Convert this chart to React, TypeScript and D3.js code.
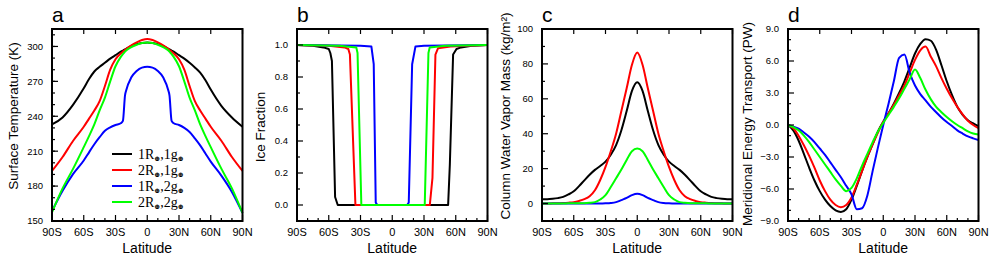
import * as d3 from 'd3'

// legend / series
const seriesLabels = ['1R⊕,1g⊕', '2R⊕,1g⊕', '1R⊕,2g⊕', '2R⊕,2g⊕']
const seriesColors = ['#000000', '#ff0000', '#0000ff', '#00ff00']

const xTicks = [-90, -60, -30, 0, 30, 60, 90]
const xTickLabels = ['90S', '60S', '30S', '0', '30N', '60N', '90N']

// panel a: surface temperature (K)
const latA = [-90, -80, -70, -60, -55, -50, -45, -40, -35, -30, -25, -23, -21, -20, -15, -10, -5, 0, 5, 10, 15, 20, 21, 23, 25, 30, 35, 40, 45, 50, 55, 60, 70, 80, 90]
const tempBlack = [233, 239, 250, 264, 272, 278.5, 282.5, 286, 289.5, 292.5, 295.5, 296.5, 297.5, 298, 300.5, 302, 303, 303.5, 303, 302, 300.5, 298, 297.5, 296.5, 295.5, 292.5, 289.5, 286, 282, 277.5, 271, 263, 249, 239, 231]
const tempRed = [193, 205, 219, 231, 238, 245, 253, 266, 280, 289, 294, 295.5, 297, 297.8, 301, 303.5, 305.5, 306.5, 305.5, 303.5, 301, 297.8, 297, 295.5, 294, 289, 280, 266, 253, 245, 238, 231, 219, 205, 193]
const tempBlue = [158.5, 176, 190.5, 202, 209, 216, 222, 227.5, 230.5, 232.5, 234, 236, 258, 262, 273.5, 279, 281.8, 282.5, 281.8, 279, 273.5, 262, 258, 236, 234, 232.5, 230, 226.5, 221, 215, 208, 201, 189, 175, 157]
const tempGreen = [157.5, 178, 195, 213.5, 223, 233, 245, 256, 270, 283, 291, 293.5, 295.5, 296.5, 299.5, 301.5, 303, 303.5, 303, 301.5, 299.5, 296.5, 295.5, 293.5, 291, 283, 270, 256, 245, 233, 223, 213.5, 195, 178, 157]

// panel b: ice fraction
const iceBlackLat = [-90, -75, -65, -60, -58.5, -57, -54, -51.5, 52.8, 54.4, 57.5, 60.7, 65, 75, 90]
const iceBlack = [1, 0.995, 0.985, 0.975, 0.95, 0.9, 0.05, 0, 0, 0.25, 0.94, 0.975, 0.985, 0.995, 1]
const iceRedLat = [-90, -60, -45, -41.5, -40, -34.8, 35.5, 38, 40.8, 43.3, 55, 90]
const iceRed = [1, 0.995, 0.985, 0.975, 0.94, 0, 0, 0.17, 0.94, 0.98, 0.99, 1]
const iceBlueLat = [-90, -30, -19.7, -17.5, -15.6, -14, 14, 15.6, 18.8, 21.9, 30, 90]
const iceBlue = [1, 0.995, 0.99, 0.88, 0.015, 0, 0, 0.015, 0.88, 0.99, 0.995, 1]
const iceGreenLat = [-90, -50, -34, -32.8, -29.2, 30.7, 34.2, 35.4, 50, 90]
const iceGreen = [1, 0.995, 0.985, 0.95, 0, 0, 0.95, 0.985, 0.995, 1]

// panels c and d share a 5 degree grid
const lat5 = [-90, -85, -80, -75, -70, -65, -60, -55, -50, -45, -40, -35, -30, -25, -20, -15, -10, -5, 0, 5, 10, 15, 20, 25, 30, 35, 40, 45, 50, 55, 60, 65, 70, 75, 80, 85, 90]

// panel c: column water vapor (kg/m2)
const vaporBlack = [2.5, 2.5, 2.7, 3.1, 3.8, 5.2, 7, 10, 13.3, 16.5, 19.3, 21.5, 24, 28, 33.5, 42, 53, 64.5, 69.5, 64.5, 53, 42, 33.5, 28, 24, 21.5, 19.3, 16.5, 13.3, 10, 7, 5.2, 3.8, 3.1, 2.7, 2.5, 2.5]
const vaporRed = [0, 0, 0.1, 0.2, 0.3, 0.5, 0.8, 1.5, 2.5, 4.2, 7.6, 13.5, 21, 30, 40, 53, 66, 79.5, 86.5, 79.5, 66, 53, 40, 30, 21, 13.5, 7.6, 4.2, 2.5, 1.5, 0.8, 0.5, 0.3, 0.2, 0.1, 0, 0]
const vaporBlue = [0, 0, 0, 0, 0, 0, 0, 0, 0, 0, 0, 0, 0.1, 0.3, 0.8, 2, 3.2, 4.8, 5.6, 4.8, 3.2, 2, 0.8, 0.3, 0.1, 0, 0, 0, 0, 0, 0, 0, 0, 0, 0, 0, 0]
const vaporGreen = [0, 0, 0, 0, 0, 0.1, 0.1, 0.2, 0.2, 0.4, 0.8, 2.3, 4.8, 9.5, 14.5, 19.5, 25, 30, 31.5, 30, 25, 19.5, 14.5, 9.5, 4.8, 2.3, 0.8, 0.4, 0.2, 0.2, 0.1, 0.1, 0, 0, 0, 0, 0]

// panel d: meridional energy transport (PW)
const mhtBlack = [0, -0.5, -1.45, -2.7, -4.0, -5.2, -6.2, -7.0, -7.6, -8.0, -8.15, -7.9, -7.0, -5.7, -4.3, -3.0, -1.8, -0.6, 0.3, 1.1, 2.0, 3.0, 4.1, 5.4, 6.7, 7.6, 8.05, 7.9, 7.05, 5.6, 4.1, 2.8, 1.7, 0.95, 0.45, 0.15, -0.1]
const mhtRed = [0, -0.3, -1.0, -1.9, -2.9, -4.0, -5.2, -6.2, -7.0, -7.5, -7.7, -7.5, -6.8, -5.6, -4.3, -3.0, -1.8, -0.7, 0.3, 1.1, 1.9, 2.8, 3.7, 4.9, 6.1, 7.0, 7.35, 6.4, 5.5, 4.4, 3.4, 2.5, 1.7, 1.0, 0.4, 0.0, -0.3]
const mhtBlue = [0, -0.15, -0.35, -0.7, -1.1, -1.6, -2.2, -2.8, -3.5, -4.2, -4.9, -5.7, -6.5, -7.9, -7.8, -6.6, -4.3, -2.1, 0.0, 2.0, 4.1, 6.3, 6.6, 4.9, 3.7, 2.9, 2.3, 1.7, 1.2, 0.7, 0.28, -0.1, -0.5, -0.8, -1.07, -1.25, -1.4]
const mhtGreen = [0, -0.2, -0.5, -1.0, -1.6, -2.3, -3.0, -3.7, -4.4, -5.1, -5.7, -6.2, -5.9, -5.0, -3.8, -2.7, -1.6, -0.6, 0.2, 0.95, 1.7, 2.5, 3.4, 4.3, 5.2, 4.4, 3.3, 2.4, 1.7, 1.2, 0.75, 0.35, 0.0, -0.3, -0.6, -0.8, -0.9]

const FONT = '"Liberation Sans", Arial, Helvetica, sans-serif'
const plotTop = 29
const plotBottom = 221
const plotWidth = 190.5

type Series = {lat: number[]; values: number[]}
type Panel = {
  letter: string
  left: number
  title: string
  titleX: number
  titleY: number
  yDomain: [number, number]
  yMajor: number[]
  yMinor: number[]
  yFormat: (v: number) => string
  series: Series[]
  linear?: boolean
  legend?: boolean
}

const panels: Panel[] = [
  {
    letter: 'a', left: 52, title: 'Surface Temperature (K)', titleX: 18, titleY: 116,
    yDomain: [150, 315], yMajor: d3.range(150, 301, 30), yMinor: d3.range(160, 315, 10),
    yFormat: d3.format('d'),
    series: [
      {lat: latA, values: tempBlack}, {lat: latA, values: tempRed},
      {lat: latA, values: tempBlue}, {lat: latA, values: tempGreen},
    ],
    legend: true,
  },
  {
    letter: 'b', left: 297, title: 'Ice Fraction', titleX: 265, titleY: 127,
    yDomain: [-0.1, 1.1], yMajor: d3.range(0, 1.01, 0.2), yMinor: d3.range(0.1, 1.05, 0.2),
    yFormat: d3.format('.1f'),
    series: [
      {lat: iceBlackLat, values: iceBlack}, {lat: iceRedLat, values: iceRed},
      {lat: iceBlueLat, values: iceBlue}, {lat: iceGreenLat, values: iceGreen},
    ],
    linear: true,
  },
  {
    letter: 'c', left: 542, title: 'Column Water Vapor Mass (kg/m²)', titleX: 510, titleY: 116,
    yDomain: [-10, 100], yMajor: d3.range(0, 101, 20), yMinor: d3.range(10, 100, 20),
    yFormat: d3.format('d'),
    series: [
      {lat: lat5, values: vaporBlack}, {lat: lat5, values: vaporRed},
      {lat: lat5, values: vaporBlue}, {lat: lat5, values: vaporGreen},
    ],
  },
  {
    letter: 'd', left: 788, title: 'Meridional Energy Transport (PW)', titleX: 752, titleY: 124,
    yDomain: [-9, 9], yMajor: d3.range(-9, 9.01, 3), yMinor: d3.range(-8, 9, 1).filter(v => v % 3 !== 0),
    yFormat: d3.format('.1f'),
    series: [
      {lat: lat5, values: mhtBlack}, {lat: lat5, values: mhtRed},
      {lat: lat5, values: mhtBlue}, {lat: lat5, values: mhtGreen},
    ],
  },
]

const xMinor = d3.range(-80, 90, 10).filter(v => v % 30 !== 0)

function LegendLabel({text}: {text: string}) {
  const parts = text.split('⊕')
  const out: JSX.Element[] = []
  parts.forEach((p, i) => {
    if (p) out.push(<tspan key={'t' + i} fontSize={14} dy={i > 0 ? -2 : 0}>{p}</tspan>)
    if (i < parts.length - 1) {
      out.push(<tspan key={'s' + i} fontSize={7} fontWeight="bold" dy={2}>⊕</tspan>)
    }
  })
  return <>{out}</>
}

function PanelView({p}: {p: Panel}) {
  const x = d3.scaleLinear().domain([-90, 90]).range([p.left, p.left + plotWidth])
  const y = d3.scaleLinear().domain(p.yDomain).range([plotBottom, plotTop])
  const line = d3
    .line<[number, number]>()
    .x(d => x(d[0]))
    .y(d => y(d[1]))
    .curve(p.linear ? d3.curveLinear : d3.curveMonotoneX)

  return (
    <g>
      <text x={p.left} y={22} fontSize={21} fontFamily={FONT}>{p.letter}</text>
      {p.series.map((s, i) => (
        <path
          key={i}
          d={line(s.lat.map((la, j) => [la, s.values[j]] as [number, number])) || ''}
          fill="none"
          stroke={seriesColors[i]}
          strokeWidth={2}
          strokeLinejoin="round"
        />
      ))}
      <rect x={p.left} y={plotTop} width={plotWidth} height={plotBottom - plotTop} fill="none" stroke="#000" strokeWidth={2} />
      {/* x ticks: bottom major+minor, top major */}
      {xTicks.map(t => (
        <g key={'xt' + t}>
          <line x1={x(t)} x2={x(t)} y1={plotBottom} y2={plotBottom - 6} stroke="#000" strokeWidth={1.2} />
          <line x1={x(t)} x2={x(t)} y1={plotTop} y2={plotTop + 5} stroke="#000" strokeWidth={1.2} />
        </g>
      ))}
      {xMinor.map(t => (
        <line key={'xm' + t} x1={x(t)} x2={x(t)} y1={plotBottom} y2={plotBottom - 3} stroke="#000" strokeWidth={1.2} />
      ))}
      {xTicks.map((t, i) => (
        <text key={'xl' + t} x={x(t)} y={236} textAnchor="middle" fontSize={11} fontFamily={FONT}>
          {xTickLabels[i]}
        </text>
      ))}
      {/* y ticks */}
      {p.yMajor.map(t => (
        <line key={'yt' + t} x1={p.left} x2={p.left + 6} y1={y(t)} y2={y(t)} stroke="#000" strokeWidth={1.2} />
      ))}
      {p.yMinor.map(t => (
        <line key={'ym' + t} x1={p.left} x2={p.left + 3} y1={y(t)} y2={y(t)} stroke="#000" strokeWidth={1.2} />
      ))}
      {p.yMajor.map(t => (
        <text key={'yl' + t} x={p.left - 9} y={y(t)} dy="0.35em" textAnchor="end" fontSize={9.5} fontFamily={FONT}>
          {p.yFormat(Math.abs(t) < 1e-9 ? 0 : t)}
        </text>
      ))}
      <text x={p.left + plotWidth / 2} y={253} textAnchor="middle" fontSize={14} fontFamily={FONT}>Latitude</text>
      <text
        transform={`translate(${p.titleX},${p.titleY}) rotate(-90)`}
        textAnchor="middle"
        fontSize={13.5}
        fontFamily={FONT}
      >
        {p.title}
      </text>
      {p.legend &&
        seriesLabels.map((lab, i) => {
          const ly = 154 + i * 16
          return (
            <g key={'lg' + i}>
              <line x1={112} x2={132} y1={ly} y2={ly} stroke={seriesColors[i]} strokeWidth={2} />
              <text x={138} y={ly + 5} fontFamily='"Liberation Serif", "DejaVu Serif", serif'>
                <LegendLabel text={lab} />
              </text>
            </g>
          )
        })}
    </g>
  )
}

export default function App() {
  return (
    <svg width={997} height={271} style={{display: 'block', position: 'absolute', left: 0, top: 0, background: '#fff'}}>
      {panels.map(p => (
        <PanelView key={p.letter} p={p} />
      ))}
    </svg>
  )
}
